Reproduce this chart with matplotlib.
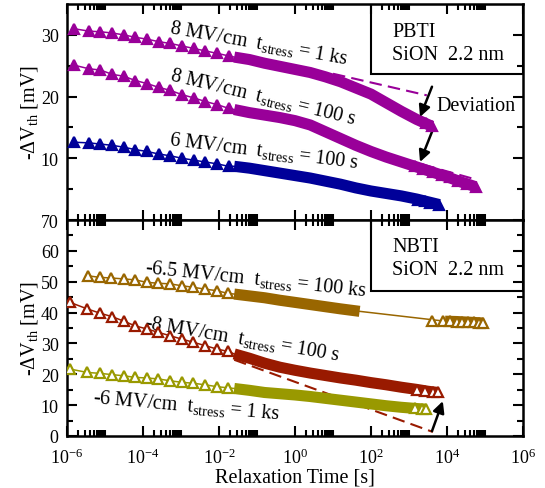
import numpy as np
import matplotlib
matplotlib.use('Agg')
import matplotlib.pyplot as plt
from matplotlib.ticker import FixedLocator, NullFormatter
from matplotlib.patches import Rectangle

plt.rcParams['font.family'] = 'Liberation Serif'
plt.rcParams['mathtext.fontset'] = 'custom'
plt.rcParams['mathtext.rm'] = 'Liberation Serif'
plt.rcParams['mathtext.it'] = 'Liberation Serif:italic'

# ---- PBTI (top) : log10(t) and -dVth [mV] ----
pb_sparse_logt = [-5.82, -5.42, -5.12, -4.81, -4.51, -4.2, -3.89, -3.59, -3.28, -2.97, -2.67, -2.36, -2.05, -1.75]
pb1_sparse = [31.0, 30.6, 30.5, 30.3, 30.0, 29.6, 29.3, 28.9, 28.6, 28.2, 27.8, 27.4, 27.0, 26.6]
pb2_sparse = [25.1, 24.5, 24.3, 23.6, 23.3, 22.6, 22.1, 21.5, 21.0, 20.3, 19.8, 19.2, 18.7, 18.1]
pb3_sparse = [12.6, 12.5, 12.3, 12.1, 11.8, 11.4, 11.1, 10.7, 10.4, 10.0, 9.7, 9.4, 9.1, 8.7]

pb1_band_logt = [-1.6, -1.2, -0.8, -0.4, 0.0, 0.4, 0.8, 1.2, 1.6, 2.0, 2.4, 2.8, 3.2, 3.6]
pb1_band = [26.4, 26.0, 25.4, 24.9, 24.4, 23.9, 23.2, 22.4, 21.4, 20.4, 19.0, 17.6, 16.3, 15.2]
pb1_tail_logt = [3.45, 3.6]
pb1_tail = [15.7, 15.2]

pb2_band_logt = [-1.6, -1.2, -0.8, -0.4, 0.0, 0.4, 0.8, 1.2, 1.6, 2.0, 2.4, 2.8, 3.2, 3.6, 4.0, 4.4, 4.75]
pb2_band = [17.9, 17.4, 17.0, 16.6, 16.1, 15.4, 14.3, 13.2, 12.1, 11.1, 10.2, 9.4, 8.6, 7.8, 7.0, 6.1, 5.4]
pb2_tail_logt = [3.16, 3.37, 3.63, 3.87, 4.08, 4.29, 4.53, 4.75]
pb2_tail = [8.7, 8.3, 7.8, 7.3, 6.9, 6.4, 5.9, 5.4]

pb3_band_logt = [-1.6, -1.2, -0.8, -0.4, 0.0, 0.4, 0.8, 1.2, 1.6, 2.0, 2.4, 2.8, 3.2, 3.6, 3.8]
pb3_band = [8.7, 8.4, 8.0, 7.6, 7.2, 6.8, 6.3, 5.8, 5.2, 4.7, 4.3, 3.9, 3.4, 2.8, 2.5]
pb3_tail_logt = [3.24, 3.42, 3.55, 3.8]
pb3_tail = [3.3, 3.0, 2.8, 2.5]

pb1_fit_logt = [1.0, 3.47]
pb1_fit = [23.7, 20.2]
pb2_fit_logt = [1.0, 4.68]
pb2_fit = [13.1, 6.7]

# ---- NBTI (bottom) ----
nb1_sparse_logt = [-5.44, -5.13, -4.83, -4.50, -4.21, -3.90, -3.60, -3.29, -2.98, -2.68, -2.37, -2.06, -1.76]
nb1_sparse = [51.9, 51.4, 51.2, 50.9, 50.6, 49.8, 49.5, 49.3, 48.7, 48.2, 47.6, 47.1, 46.2]
nb1_band_logt = [-1.6, -1.2, -0.8, -0.4, 0.0, 0.4, 0.8, 1.2, 1.7]
nb1_band = [46.0, 45.4, 44.8, 44.0, 43.3, 42.6, 41.9, 41.2, 40.4]
nb1_band2_logt = [3.95, 4.25, 4.55, 4.85, 4.95]
nb1_band2 = [37.2, 37.1, 36.9, 36.7, 36.6]
nb1_tail_logt = [3.60, 3.89, 4.08, 4.25, 4.4, 4.55, 4.7, 4.85, 4.95]
nb1_tail = [37.4, 37.3, 37.2, 37.1, 37.0, 36.9, 36.8, 36.7, 36.6]

nb_sparse_logt = [-5.92, -5.47, -5.13, -4.82, -4.5, -4.21, -3.90, -3.60, -3.29, -2.98, -2.68, -2.37, -2.06, -1.76]
nb2_sparse = [43.3, 41.2, 39.8, 38.7, 37.2, 35.7, 34.7, 33.6, 32.5, 31.4, 30.4, 29.3, 28.2, 27.4]
nb2_band_logt = [-1.6, -1.2, -0.8, -0.4, 0.0, 0.4, 0.8, 1.2, 1.6, 2.0, 2.4, 2.8, 3.2, 3.5, 3.76]
nb2_band = [26.6, 25.2, 23.6, 22.3, 21.3, 20.4, 19.6, 18.8, 18.1, 17.3, 16.6, 15.8, 15.1, 14.5, 14.1]
nb2_tail_logt = [3.21, 3.42, 3.63, 3.76]
nb2_tail = [15.0, 14.6, 14.3, 14.1]

nb3_sparse = [21.7, 20.6, 20.3, 19.9, 19.5, 19.0, 18.8, 18.5, 17.9, 17.4, 17.1, 16.6, 16.0, 15.6]
nb3_band_logt = [-1.6, -1.2, -0.8, -0.4, 0.0, 0.4, 0.8, 1.2, 1.6, 2.0, 2.4, 2.8, 3.2, 3.45]
nb3_band = [15.4, 14.8, 14.1, 13.7, 13.3, 12.8, 12.2, 11.6, 11.0, 10.4, 9.8, 9.3, 8.9, 8.7]
nb3_tail_logt = [3.16, 3.34, 3.45]
nb3_tail = [9.0, 8.8, 8.7]

nb2_fit_logt = [-1.6, 3.63]
nb2_fit = [24.7, 1.3]

PURPLE = '#990099'
BLUE = '#000099'
BROWN = '#996600'
RED = '#991a00'
OLIVE = '#999900'

FS = 14.5
TFS = 13


def t(logt):
    return 10.0 ** np.asarray(logt)


def draw_series(ax, color, filled, sparse_logt, sparse, bands, tail_logt, tail):
    line_t = list(sparse_logt)
    line_v = list(sparse)
    for bl, bv in bands:
        for a, b in zip(bl, bv):
            if a not in line_t:
                line_t.append(a)
                line_v.append(b)
    order = np.argsort(line_t)
    ax.plot(t(line_t)[order], np.asarray(line_v)[order], '-', color=color, lw=1.1, zorder=2)
    for bl, bv in bands:
        ax.plot(t(bl), bv, '-', color=color, lw=8, solid_capstyle='butt', solid_joinstyle='round', zorder=3)
    mfc = color if filled else 'white'
    ax.plot(t(sparse_logt), sparse, '^', ms=7, color=color, mfc=mfc, mec=color, mew=1.6, zorder=4, ls='none')
    ax.plot(t(tail_logt), tail, '^', ms=7, color=color, mfc=mfc, mec=color, mew=1.6, zorder=4, ls='none')


def style_axis(ax, ymax, ymajor, yminor):
    ax.set_xscale('log')
    ax.set_xlim(1e-6, 1e6)
    ax.set_ylim(0, ymax)
    ax.xaxis.set_major_locator(FixedLocator([10.0 ** e for e in range(-6, 7, 2)]))
    ax.xaxis.set_minor_locator(FixedLocator([m * 10.0 ** e for e in range(-6, 6, 2) for m in range(2, 11)]))
    ax.xaxis.set_minor_formatter(NullFormatter())
    ax.yaxis.set_major_locator(FixedLocator(ymajor))
    ax.yaxis.set_minor_locator(FixedLocator(yminor))
    ax.tick_params(which='both', direction='in', top=True, right=True, width=1.5, labelsize=TFS)
    ax.tick_params(which='major', length=7)
    ax.tick_params(which='minor', length=4)
    ax.tick_params(axis='x', pad=8)
    ax.tick_params(axis='y', pad=6)
    for s in ax.spines.values():
        s.set_linewidth(1.8)


fig = plt.figure(figsize=(5.45, 4.89), dpi=100)
W, H = 545.0, 489.0
ax1 = fig.add_axes([67 / W, (H - 221) / H, 456 / W, 216 / H])
ax2 = fig.add_axes([67 / W, (H - 437) / H, 456 / W, 216 / H])

arrow = dict(arrowstyle='-|>', color='k', lw=1.8, mutation_scale=17, shrinkA=0, shrinkB=0)

# ---- top panel ----
draw_series(ax1, PURPLE, True, pb_sparse_logt, pb1_sparse, [(pb1_band_logt, pb1_band)], pb1_tail_logt, pb1_tail)
draw_series(ax1, PURPLE, True, pb_sparse_logt, pb2_sparse, [(pb2_band_logt, pb2_band)], pb2_tail_logt, pb2_tail)
draw_series(ax1, BLUE, True, pb_sparse_logt, pb3_sparse, [(pb3_band_logt, pb3_band)], pb3_tail_logt, pb3_tail)
ax1.plot(t(pb1_fit_logt), pb1_fit, '--', color=PURPLE, lw=1.5, dashes=(6, 3), zorder=1.5)
ax1.plot(t(pb2_fit_logt), pb2_fit, '--', color=PURPLE, lw=1.5, dashes=(6, 3), zorder=1.5)

style_axis(ax1, 35, [10, 20, 30], [5, 15, 25])
ax1.tick_params(labelbottom=False)

ax1.text(10 ** -3.32, 30.5, r'8 MV/cm  t$_{\mathrm{stress}}$ = 1 ks', fontsize=FS, rotation=-10,
         rotation_mode='anchor', ha='left', va='baseline')
ax1.text(10 ** -3.32, 22.9, r'8 MV/cm  t$_{\mathrm{stress}}$ = 100 s', fontsize=FS, rotation=-13.5,
         rotation_mode='anchor', ha='left', va='baseline')
ax1.text(10 ** -3.32, 12.3, r'6 MV/cm  t$_{\mathrm{stress}}$ = 100 s', fontsize=FS, rotation=-7,
         rotation_mode='anchor', ha='left', va='baseline')

ax1.annotate('', xy=(10 ** 3.29, 16.7), xytext=(10 ** 3.605, 21.6), arrowprops=arrow)
ax1.annotate('', xy=(10 ** 3.29, 9.4), xytext=(10 ** 3.605, 14.3), arrowprops=arrow)
ax1.text(10 ** 3.72, 18.5, 'Deviation', fontsize=FS, ha='left', va='center')

ax1.add_patch(Rectangle((0.667, 0.676), 0.333, 0.324, transform=ax1.transAxes,
                        fill=False, lw=1.5, ec='k', zorder=6))
ax1.text(0.713, 0.852, 'PBTI', transform=ax1.transAxes, fontsize=FS, va='baseline')
ax1.text(0.713, 0.745, 'SiON  2.2 nm', transform=ax1.transAxes, fontsize=FS, va='baseline')
ax1.set_ylabel(r'-ΔV$_{\mathrm{th}}$ [mV]', fontsize=FS)
ax1.yaxis.set_label_coords(-0.06, 0.5)

# ---- bottom panel ----
draw_series(ax2, BROWN, False, nb1_sparse_logt, nb1_sparse,
            [(nb1_band_logt, nb1_band), (nb1_band2_logt, nb1_band2)], nb1_tail_logt, nb1_tail)
draw_series(ax2, RED, False, nb_sparse_logt, nb2_sparse, [(nb2_band_logt, nb2_band)], nb2_tail_logt, nb2_tail)
draw_series(ax2, OLIVE, False, nb_sparse_logt, nb3_sparse, [(nb3_band_logt, nb3_band)], nb3_tail_logt, nb3_tail)
ax2.plot(t(nb2_fit_logt), nb2_fit, '--', color=RED, lw=1.5, dashes=(6, 3), zorder=1.5)

style_axis(ax2, 70, list(range(0, 71, 10)), list(range(5, 70, 10)))
ax2.set_xticklabels([r'$10^{%d}$' % e for e in range(-6, 7, 2)])
ax2.set_xlabel('Relaxation Time [s]', fontsize=FS, labelpad=1)

ax2.text(10 ** -3.97, 53.1, r'-6.5 MV/cm  t$_{\mathrm{stress}}$ = 100 ks', fontsize=FS, rotation=-6,
         rotation_mode='anchor', ha='left', va='baseline')
ax2.text(10 ** -3.97, 35.3, r'-8 MV/cm  t$_{\mathrm{stress}}$ = 100 s', fontsize=FS, rotation=-9.5,
         rotation_mode='anchor', ha='left', va='baseline')
ax2.text(10 ** -5.32, 11.0, r'-6 MV/cm  t$_{\mathrm{stress}}$ = 1 ks', fontsize=FS, rotation=-5,
         rotation_mode='anchor', ha='left', va='baseline')

ax2.annotate('', xy=(10 ** 3.89, 11.3), xytext=(10 ** 3.605, 1.6), arrowprops=arrow)

ax2.add_patch(Rectangle((0.667, 0.671), 0.333, 0.329, transform=ax2.transAxes,
                        fill=False, lw=1.5, ec='k', zorder=6))
ax2.text(0.713, 0.855, 'NBTI', transform=ax2.transAxes, fontsize=FS, va='baseline')
ax2.text(0.713, 0.75, 'SiON  2.2 nm', transform=ax2.transAxes, fontsize=FS, va='baseline')
ax2.set_ylabel(r'-ΔV$_{\mathrm{th}}$ [mV]', fontsize=FS)
ax2.yaxis.set_label_coords(-0.06, 0.5)

fig.savefig('out.png', dpi=100)
